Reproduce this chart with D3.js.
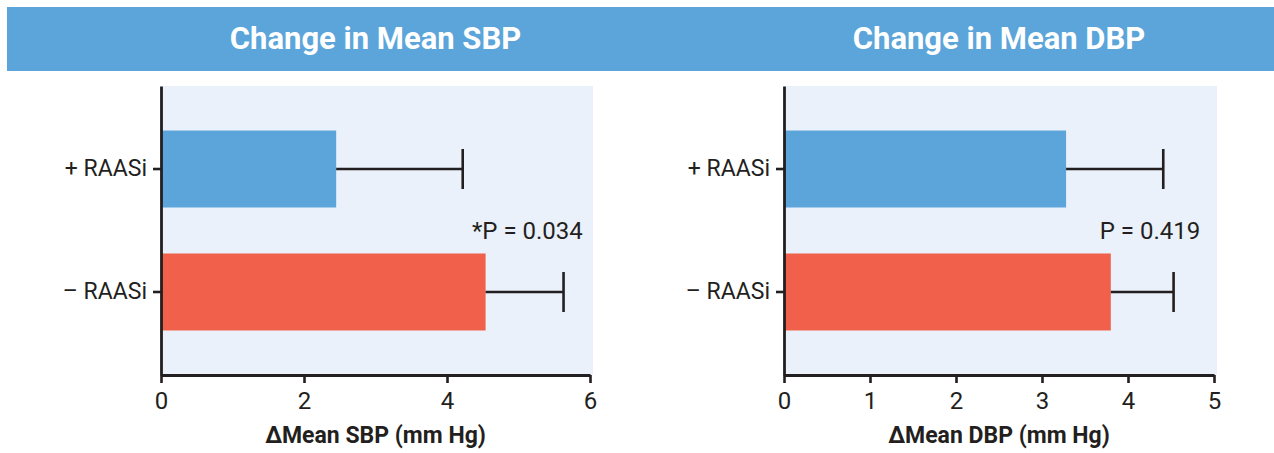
<!DOCTYPE html>
<html>
<head>
<meta charset="utf-8">
<script src="https://cdn.jsdelivr.net/npm/d3@7"></script>
<style>
  body { margin: 0; background: #fff; }
  text { font-family: Roboto, "Open Sans", sans-serif; fill: #231f20; }
</style>
</head>
<body>
<div id="chart"></div>
<script>
// data
var groups = ["+ RAASi", "\u2013 RAASi"];
var sbpMean = [2.45, 4.54];
var sbpUpper = [4.22, 5.63];
var dbpMean = [3.28, 3.80];
var dbpUpper = [4.41, 4.53];
var sbpTicks = [0, 2, 4, 6];
var dbpTicks = [0, 1, 2, 3, 4, 5];
var barColors = ["#5ba5da", "#f0604a"];

var W = 1274, H = 453;
var svg = d3.select("#chart").append("svg").attr("width", W).attr("height", H);

// header band
svg.append("rect").attr("x", 7).attr("y", 7).attr("width", W - 7).attr("height", 64).attr("fill", "#5ba5da");

var panels = [
  {title: "Change in Mean SBP", axis: "\u0394Mean SBP (mm Hg)", mean: sbpMean, upper: sbpUpper,
   ticks: sbpTicks, max: 6, x0: 161, x1: 590, p: "*P = 0.034", pAt: 5.9},
  {title: "Change in Mean DBP", axis: "\u0394Mean DBP (mm Hg)", mean: dbpMean, upper: dbpUpper,
   ticks: dbpTicks, max: 5, x0: 784, x1: 1214, p: "P = 0.419", pAt: 4.84}
];

var plotTop = 86, plotBottom = 375;

panels.forEach(function(p) {
  var x = d3.scaleLinear().domain([0, p.max]).range([p.x0, p.x1]);
  var y = d3.scaleBand().domain(groups).range([plotTop, plotBottom]).paddingInner(0.374).paddingOuter(0.362);
  var g = svg.append("g");

  g.append("rect").attr("x", x(0)).attr("y", plotTop).attr("width", x(p.max) - x(0) + 3).attr("height", plotBottom - plotTop)
    .attr("fill", "#eaf1fa");

  var rows = groups.map(function(d, i) { return {name: d, mean: p.mean[i], upper: p.upper[i], i: i}; });

  g.selectAll(".bar").data(rows).enter().append("rect")
    .attr("class", "bar")
    .attr("x", x(0))
    .attr("y", function(d) { return y(d.name); })
    .attr("width", function(d) { return x(d.mean) - x(0); })
    .attr("height", y.bandwidth())
    .attr("fill", function(d) { return barColors[d.i]; });

  var eb = g.selectAll(".err").data(rows).enter().append("g").attr("class", "err")
    .attr("stroke", "#231f20").attr("stroke-width", 2.6);
  eb.append("line")
    .attr("x1", function(d) { return x(d.mean); })
    .attr("x2", function(d) { return x(d.upper); })
    .attr("y1", function(d) { return y(d.name) + y.bandwidth() / 2; })
    .attr("y2", function(d) { return y(d.name) + y.bandwidth() / 2; });
  eb.append("line")
    .attr("x1", function(d) { return x(d.upper); })
    .attr("x2", function(d) { return x(d.upper); })
    .attr("y1", function(d) { return y(d.name) + y.bandwidth() / 2 - 20; })
    .attr("y2", function(d) { return y(d.name) + y.bandwidth() / 2 + 20; });

  var xAxis = g.append("g").attr("transform", "translate(0," + plotBottom + ")")
    .call(d3.axisBottom(x).tickValues(p.ticks).tickFormat(d3.format("d")).tickSize(8).tickSizeOuter(0).tickPadding(9));
  var yAxis = g.append("g").attr("transform", "translate(" + x(0) + ",0)")
    .call(d3.axisLeft(y).tickSize(8).tickSizeOuter(0).tickPadding(6));
  [xAxis, yAxis].forEach(function(a) {
    a.select(".domain").attr("stroke", "#231f20").attr("stroke-width", 2.8);
    a.selectAll(".tick line").attr("stroke", "#231f20").attr("stroke-width", 2.6);
    a.selectAll(".tick text").attr("fill", "#231f20").style("font-family", "Roboto, sans-serif");
  });
  xAxis.selectAll(".tick text").style("font-size", "24px");
  yAxis.selectAll(".tick text").style("font-size", "23px");

  g.append("text").attr("x", x(p.pAt)).attr("y", 239).attr("text-anchor", "end")
    .style("font-size", "24px").text(p.p);

  g.append("text").attr("x", (x(0) + x(p.max)) / 2).attr("y", 443).attr("text-anchor", "middle")
    .style("font-size", "23px").style("font-weight", "bold").text(p.axis);

  svg.append("text").attr("x", (x(0) + x(p.max)) / 2).attr("y", 49).attr("text-anchor", "middle")
    .style("font-size", "31px").style("font-weight", "bold").style("fill", "#fff").text(p.title);
});
</script>
</body>
</html>
